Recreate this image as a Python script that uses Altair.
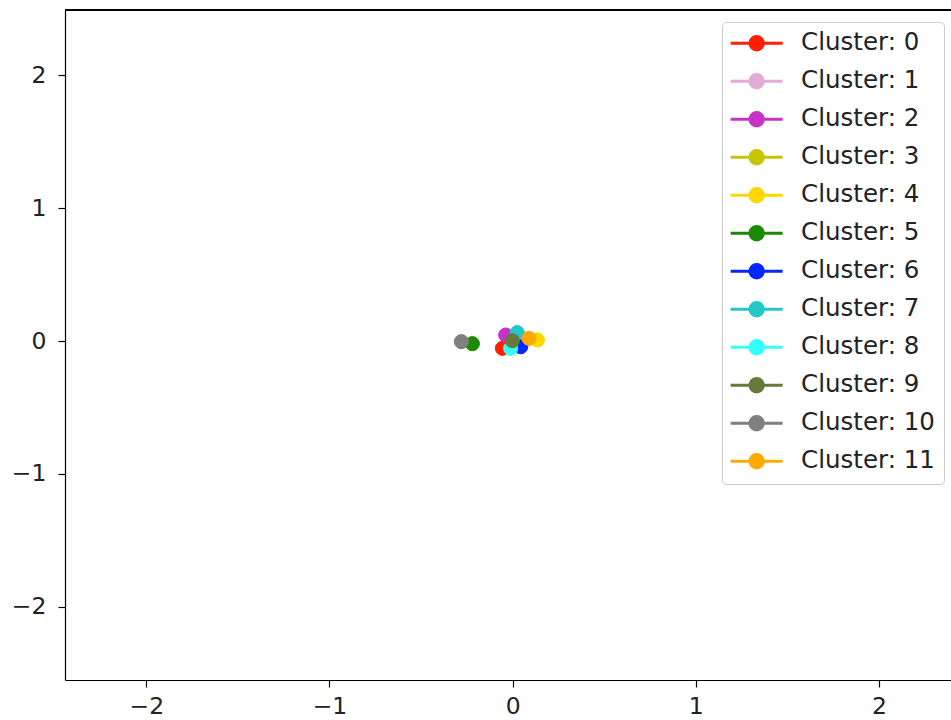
import altair as alt
import pandas as pd

cluster_ids = list(range(12))
labels = [f"Cluster: {i}" for i in cluster_ids]
x_vals = [-0.056, 0.000, -0.038, 0.060, 0.135, -0.220, 0.044, 0.025, -0.011, -0.002, -0.280, 0.089]
y_vals = [-0.055, 0.020, 0.045, 0.010, 0.008, -0.020, -0.043, 0.063, -0.055, 0.002, -0.005, 0.020]
colors = ["#ff2000", "#e0acd8", "#c832c8", "#c8c400", "#ffd700", "#1a8a00",
          "#0028ff", "#22c8c8", "#33ffff", "#667a3a", "#7f7f7f", "#ffaa00"]

df = pd.DataFrame({"label": labels, "x": x_vals, "y": y_vals})

W, H = 886, 670
FS = 23.5
color_scale = alt.Scale(domain=labels, range=colors)
sym = "M-2.5,0L2.5,0M-0.65,0A0.65,0.65,0,1,1,0.65,0A0.65,0.65,0,1,1,-0.65,0Z"

points = alt.Chart(df).mark_point(filled=True, shape="circle", size=200, opacity=1, strokeWidth=1).encode(
    x=alt.X("x:Q", scale=alt.Scale(domain=[-2.444, 2.393], nice=False, zero=False),
            axis=alt.Axis(values=[-2, -1, 0, 1, 2], title=None, grid=False, format="d")),
    y=alt.Y("y:Q", scale=alt.Scale(domain=[-2.549, 2.489], nice=False, zero=False),
            axis=alt.Axis(values=[-2, -1, 0, 1, 2], title=None, grid=False, format="d", labelPadding=12)),
    fill=alt.Fill("label:N", scale=color_scale, sort=labels,
                  legend=alt.Legend(title=None, orient="none", legendX=657, legendY=12,
                                    symbolType=sym, symbolSize=432.6, symbolStrokeWidth=3,
                                    symbolOffset=13.4,
                                    labelFontSize=24.5, labelFont="DejaVu Sans", labelColor="#222222",
                                    labelOffset=32.2, rowPadding=11, padding=9,
                                    strokeColor="#cccccc", cornerRadius=4, fillColor="white")),
    stroke=alt.Stroke("label:N", scale=color_scale, sort=labels, legend=None),
)

top = alt.Chart(df).mark_rule(color="black", strokeWidth=1.2).encode(
    x=alt.value(0), x2=alt.value(W), y=alt.value(0)
)

chart = alt.layer(points, top).properties(
    width=W, height=H,
    autosize=alt.AutoSizeParams(type="none"),
    padding={"left": 65, "top": 10, "right": 0, "bottom": 40},
).configure_view(stroke=None).configure_axis(
    labelFont="DejaVu Sans", labelFontSize=FS, labelColor="#222222",
    domainColor="black", domainWidth=1.2, tickColor="black", tickWidth=1.2,
    tickSize=7, labelPadding=7,
)

chart.save("out.html", embed_options={"renderer": "svg", "actions": False})
